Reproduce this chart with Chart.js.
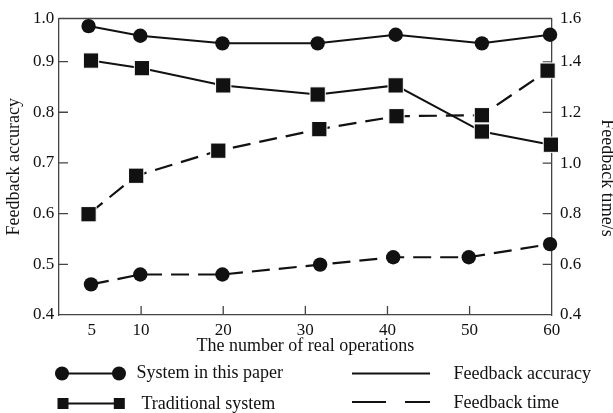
<!DOCTYPE html>
<html>
<head>
<meta charset="utf-8">
<script src="https://cdn.jsdelivr.net/npm/chart.js@4/dist/chart.umd.min.js"></script>
<style>
  html, body { margin: 0; padding: 0; background: #ffffff; }
  #wrap { width: 613px; height: 413px; }
</style>
</head>
<body>
<div id="wrap"><canvas id="c" width="613" height="413"></canvas></div>
<script>
// ---- data ----
const xTickValues = [4, 10, 20, 30, 40, 50, 60];
const xTickLabels = ['5', '10', '20', '30', '40', '50', '60'];
const leftTickValues = [0.4, 0.5, 0.6, 0.7, 0.8, 0.9, 0.985];
const leftTickLabels = ['0.4', '0.5', '0.6', '0.7', '0.8', '0.9', '1.0'];
const rightTickValues = [0.4, 0.6, 0.8, 1.0, 1.2, 1.4, 1.571];
const rightTickLabels = ['0.4', '0.6', '0.8', '1.0', '1.2', '1.4', '1.6'];

const sysAccX = [3.6, 9.9, 19.9, 31.5, 41.0, 51.5, 59.8];
const sysAccY = [0.970, 0.951, 0.936, 0.936, 0.953, 0.936, 0.953];
const tradAccX = [3.9, 10.1, 20.0, 31.5, 41.0, 51.5, 59.9];
const tradAccY = [0.902, 0.887, 0.853, 0.835, 0.853, 0.762, 0.736];
const tradTimeX = [3.6, 9.4, 19.4, 31.7, 41.1, 51.5, 59.5];
const tradTimeY = [0.798, 0.950, 1.049, 1.134, 1.185, 1.189, 1.365];
const sysTimeX = [3.9, 9.9, 19.9, 31.8, 40.7, 49.9, 59.8];
const sysTimeY = [0.521, 0.560, 0.560, 0.599, 0.628, 0.628, 0.680];

const seriesNames = ['System in this paper', 'Traditional system'];
const metricNames = ['Feedback accuracy', 'Feedback time'];
const xTitle = 'The number of real operations';
const leftTitle = 'Feedback accuracy';
const rightTitle = 'Feedback time/s';

// ---- styles ----
const FONT = '"Liberation Serif", "Times New Roman", serif';
const INK = '#111111';
const AXIS = '#444444';
const DASH = [18, 9];

const pts = (xs, ys) => xs.map((x, i) => ({ x: x, y: ys[i] }));

const framePlugin = {
  id: 'frame',
  beforeDatasetsDraw(chart) {
    const { ctx, chartArea: a, scales } = chart;
    ctx.save();
    ctx.strokeStyle = AXIS;
    ctx.lineWidth = 1.3;
    ctx.beginPath();
    ctx.moveTo(a.left, a.top);
    ctx.lineTo(a.right, a.top);
    const L = 9;
    scales.x.ticks.forEach((t, i, arr) => {
      if (i === 0 || i === arr.length - 1) return;
      const p = scales.x.getPixelForValue(t.value);
      ctx.moveTo(p, a.bottom); ctx.lineTo(p, a.bottom - L);
    });
    scales.y.ticks.forEach((t, i, arr) => {
      if (i === 0 || i === arr.length - 1) return;
      const p = scales.y.getPixelForValue(t.value);
      ctx.moveTo(a.left, p); ctx.lineTo(a.left + L, p);
    });
    scales.y1.ticks.forEach((t, i, arr) => {
      if (i === 0 || i === arr.length - 1) return;
      const p = scales.y1.getPixelForValue(t.value);
      ctx.moveTo(a.right, p); ctx.lineTo(a.right - L, p);
    });
    ctx.stroke();
    ctx.restore();
  },
  afterDraw(chart) {
    const { ctx } = chart;
    ctx.save();
    // right axis title
    ctx.fillStyle = INK;
    ctx.font = '18px ' + FONT;
    ctx.textAlign = 'center';
    ctx.textBaseline = 'middle';
    ctx.translate(606.3, 178);
    ctx.rotate(Math.PI / 2);
    ctx.fillText(rightTitle, 0, 0);
    ctx.restore();

    // legend
    ctx.save();
    ctx.strokeStyle = INK;
    ctx.fillStyle = INK;
    ctx.lineWidth = 2;
    // row 1: system (circle)
    ctx.beginPath(); ctx.moveTo(62, 373.5); ctx.lineTo(119, 373.5); ctx.stroke();
    [62, 119].forEach(x => { ctx.beginPath(); ctx.arc(x, 373.5, 7, 0, Math.PI * 2); ctx.fill(); });
    // row 2: traditional (square)
    ctx.beginPath(); ctx.moveTo(63, 403.5); ctx.lineTo(119, 403.5); ctx.stroke();
    [63, 119.3].forEach(x => { ctx.fillRect(x - 5.5, 403.5 - 5.5, 11, 11); });
    // metric lines
    ctx.beginPath(); ctx.moveTo(352, 373.5); ctx.lineTo(430, 373.5); ctx.stroke();
    ctx.setLineDash([34, 19]);
    ctx.beginPath(); ctx.moveTo(352, 402); ctx.lineTo(430, 402); ctx.stroke();
    ctx.setLineDash([]);
    ctx.font = '18px ' + FONT;
    ctx.textAlign = 'left';
    ctx.textBaseline = 'middle';
    ctx.fillText(seriesNames[0], 136.5, 373.5);
    ctx.fillText(seriesNames[1], 141.5, 404);
    ctx.fillText(metricNames[0], 453.5, 374);
    ctx.fillText(metricNames[1], 453.5, 403.5);
    ctx.restore();
  }
};

const lineBase = {
  borderColor: INK,
  backgroundColor: INK,
  pointBackgroundColor: INK,
  fill: false,
  tension: 0,
  clip: false
};

new Chart(document.getElementById('c'), {
  type: 'line',
  data: {
    datasets: [
      Object.assign({}, lineBase, {
        label: seriesNames[0] + ' – ' + metricNames[0],
        data: pts(sysAccX, sysAccY), yAxisID: 'y',
        borderWidth: 2, pointStyle: 'circle', pointRadius: 7.2,
        pointBorderColor: INK, pointBorderWidth: 0
      }),
      Object.assign({}, lineBase, {
        label: seriesNames[1] + ' – ' + metricNames[0],
        data: pts(tradAccX, tradAccY), yAxisID: 'y',
        borderWidth: 2, pointStyle: 'rect', pointRadius: 10.8,
        pointBorderColor: '#ffffff', pointBorderWidth: 1
      }),
      Object.assign({}, lineBase, {
        label: seriesNames[1] + ' – ' + metricNames[1],
        data: pts(tradTimeX, tradTimeY), yAxisID: 'y1',
        borderWidth: 2.2, borderDash: DASH, pointStyle: 'rect', pointRadius: 10.8,
        pointBorderColor: '#ffffff', pointBorderWidth: 1
      }),
      Object.assign({}, lineBase, {
        label: seriesNames[0] + ' – ' + metricNames[1],
        data: pts(sysTimeX, sysTimeY), yAxisID: 'y1',
        borderWidth: 2.2, borderDash: DASH, pointStyle: 'circle', pointRadius: 7.2,
        pointBorderColor: INK, pointBorderWidth: 0
      })
    ]
  },
  options: {
    responsive: false,
    animation: false,
    events: [],
    layout: { padding: { top: 15.7, left: 0, right: 0, bottom: 48 } },
    plugins: { legend: { display: false }, tooltip: { enabled: false }, title: { display: false } },
    scales: {
      x: {
        type: 'linear', position: 'bottom', min: 0, max: 60,
        afterBuildTicks: s => { s.ticks = xTickValues.map(v => ({ value: v })); },
        afterFit: s => { s.height = 50; },
        grid: { display: false, drawTicks: false },
        border: { display: true, color: AXIS, width: 1.3 },
        ticks: {
          autoSkip: false, maxRotation: 0, padding: 5.8, color: INK,
          font: { family: FONT, size: 17 },
          callback: (v, i) => xTickLabels[i]
        },
        title: { display: true, text: xTitle, color: INK, font: { family: FONT, size: 18 }, padding: { top: 0, bottom: 8.4 } }
      },
      y: {
        type: 'linear', position: 'left', min: 0.4, max: leftTickValues[leftTickValues.length - 1],
        afterBuildTicks: s => { s.ticks = leftTickValues.map(v => ({ value: v })); },
        afterFit: s => { s.width = 59; },
        grid: { display: false, drawTicks: false },
        border: { display: true, color: AXIS, width: 1.3 },
        ticks: {
          autoSkip: false, padding: 4.7, color: INK,
          font: { family: FONT, size: 17 },
          callback: (v, i) => leftTickLabels[i]
        },
        title: { display: true, text: leftTitle, color: INK, font: { family: FONT, size: 18 }, padding: { top: 3.7, bottom: 0 } }
      },
      y1: {
        type: 'linear', position: 'right', min: 0.4, max: rightTickValues[rightTickValues.length - 1],
        afterBuildTicks: s => { s.ticks = rightTickValues.map(v => ({ value: v })); },
        afterFit: s => { s.width = 61.3; },
        grid: { display: false, drawTicks: false },
        border: { display: true, color: AXIS, width: 1.3 },
        ticks: {
          autoSkip: false, padding: 8.3, color: INK,
          font: { family: FONT, size: 17 },
          callback: (v, i) => rightTickLabels[i]
        },
        title: { display: false }
      }
    }
  },
  plugins: [framePlugin]
});
</script>
</body>
</html>
